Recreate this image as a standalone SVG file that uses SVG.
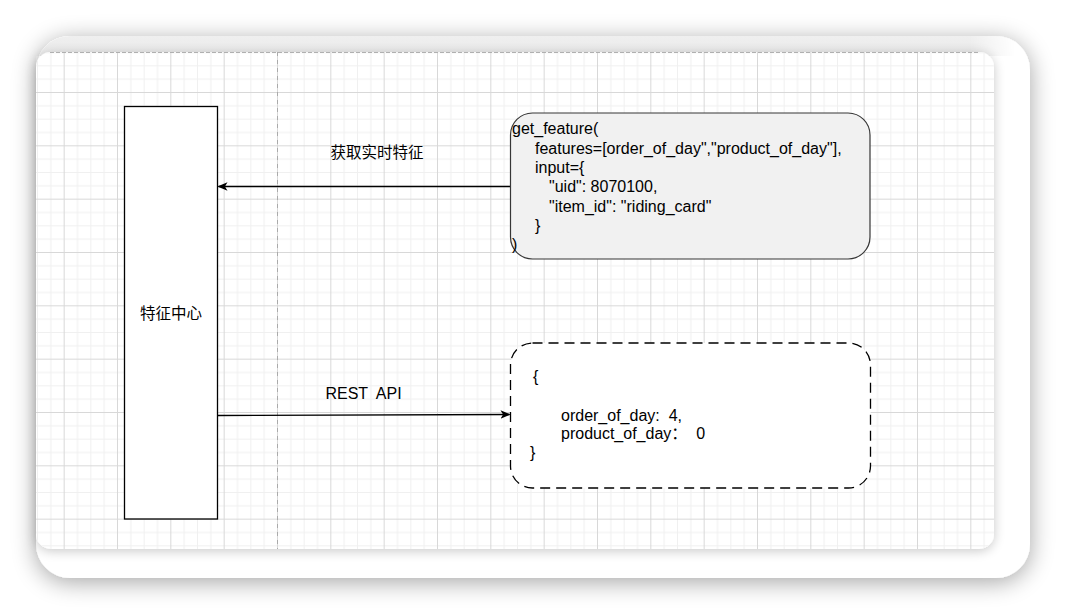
<svg xmlns="http://www.w3.org/2000/svg" width="1066" height="614" viewBox="0 0 1066 614">
  <style>
    .t { font-family: "Liberation Sans", "Noto Sans CJK SC", sans-serif; font-size: 16px; fill: #000; }
    .cjk { font-family: "Noto Sans CJK SC", "Liberation Sans", sans-serif; font-size: 15.5px; fill: #000; }
    .edge { stroke: #000; stroke-width: 1.3; fill: none; }
  </style>
  <defs>
    <filter id="shadowOuter" x="-10%" y="-15%" width="120%" height="130%">
      <feGaussianBlur in="SourceAlpha" stdDeviation="12"/>
      <feOffset dx="0" dy="4" result="b"/>
      <feComponentTransfer><feFuncA type="linear" slope="0.36"/></feComponentTransfer>
      <feMerge><feMergeNode/><feMergeNode in="SourceGraphic"/></feMerge>
    </filter>
    <filter id="shadowInner" x="-5%" y="-8%" width="110%" height="116%">
      <feGaussianBlur in="SourceAlpha" stdDeviation="6"/>
      <feOffset dx="0" dy="2" result="b"/>
      <feComponentTransfer><feFuncA type="linear" slope="0.22"/></feComponentTransfer>
      <feMerge><feMergeNode/><feMergeNode in="SourceGraphic"/></feMerge>
    </filter>
    <linearGradient id="topBand" x1="0" y1="0" x2="0" y2="1">
      <stop offset="0" stop-color="#efefef"/>
      <stop offset="1" stop-color="#e6e6e6"/>
    </linearGradient>
    <linearGradient id="fadeRight" gradientUnits="userSpaceOnUse" x1="970" y1="0" x2="1015" y2="0">
      <stop offset="0" stop-color="#fff"/>
      <stop offset="1" stop-color="#000"/>
    </linearGradient>
    <mask id="bandMask" maskUnits="userSpaceOnUse" x="0" y="0" width="1066" height="614">
      <rect x="0" y="0" width="1066" height="614" fill="url(#fadeRight)"/>
    </mask>
    <pattern id="grid" width="53.333" height="53.333" patternUnits="userSpaceOnUse" x="10.333" y="38.667">
      <path d="M13.833 0V53.333M27.167 0V53.333M40.5 0V53.333M0 13.833H53.333M0 27.167H53.333M0 40.5H53.333" stroke="#f0f0f0" stroke-width="1" fill="none"/>
      <path d="M0.5 0V53.333M0 0.5H53.333" stroke="#d8d8d8" stroke-width="1" fill="none"/>
    </pattern>
    <marker id="arrow" viewBox="0 0 10 10" refX="9" refY="5" markerWidth="10" markerHeight="10" markerUnits="userSpaceOnUse" orient="auto">
      <path d="M0 0.8 L10 5 L0 9.2 L2.6 5 Z" fill="#000"/>
    </marker>
  </defs>

  <rect x="0" y="0" width="1066" height="614" fill="#ffffff"/>

  <g id="frame">
    <rect x="36" y="36" width="994" height="542" rx="34" fill="#ffffff" filter="url(#shadowOuter)"/>
    <path d="M70 36 H996 A34 34 0 0 1 1030 70 V56 H36 V70 A34 34 0 0 1 70 36 Z" fill="url(#topBand)" mask="url(#bandMask)"/>
    <rect x="36" y="52" width="958" height="497" rx="15" fill="#ffffff" filter="url(#shadowInner)"/>
    <rect x="36" y="52" width="958" height="497" rx="15" fill="url(#grid)"/>
    <line x1="277.5" y1="52" x2="277.5" y2="549" stroke="#aaaaaa" stroke-width="1" stroke-dasharray="4 4"/>
    <line x1="50" y1="52.5" x2="980" y2="52.5" stroke="#b0b0b0" stroke-width="1" stroke-dasharray="4 2"/>
  </g>

  <g id="connectors">
    <line class="edge" x1="510" y1="186.5" x2="218.5" y2="186.5" marker-end="url(#arrow)"/>
    <text class="cjk" x="377" y="157.5" text-anchor="middle">获取实时特征</text>
    <line class="edge" x1="217.5" y1="415.5" x2="509.5" y2="414.5" marker-end="url(#arrow)"/>
    <text class="t" x="363.5" y="399" text-anchor="middle" xml:space="preserve">REST  API</text>
  </g>

  <g id="feature-center">
    <rect x="124.5" y="106.5" width="93" height="412.5" fill="#ffffff" stroke="#000" stroke-width="1.3"/>
    <text class="cjk" x="171" y="318.5" text-anchor="middle">特征中心</text>
  </g>

  <g id="get-feature">
    <rect x="510.5" y="113" width="359.5" height="146" rx="22" fill="#f1f1f1" stroke="#363636" stroke-width="1.2"/>
    <text class="t" xml:space="preserve"><tspan x="512" y="134.3">get_feature(</tspan><tspan x="535" y="153.6">features=[order_of_day","product_of_day"],</tspan><tspan x="535" y="172.9">input={</tspan><tspan x="549" y="192.2">"uid": 8070100,</tspan><tspan x="549" y="211.5">"item_id": "riding_card"</tspan><tspan x="535" y="230.8">}</tspan><tspan x="512" y="250.1">)</tspan></text>
  </g>

  <g id="response">
    <rect x="510.5" y="343" width="360" height="145" rx="22" fill="#ffffff" stroke="#000" stroke-width="1.3" stroke-dasharray="10 6"/>
    <text class="t" xml:space="preserve"><tspan x="533" y="382">{</tspan><tspan x="561" y="421">order_of_day:  4,</tspan><tspan x="561" y="439">product_of_day：  0</tspan><tspan x="530" y="458">}</tspan></text>
  </g>
</svg>
